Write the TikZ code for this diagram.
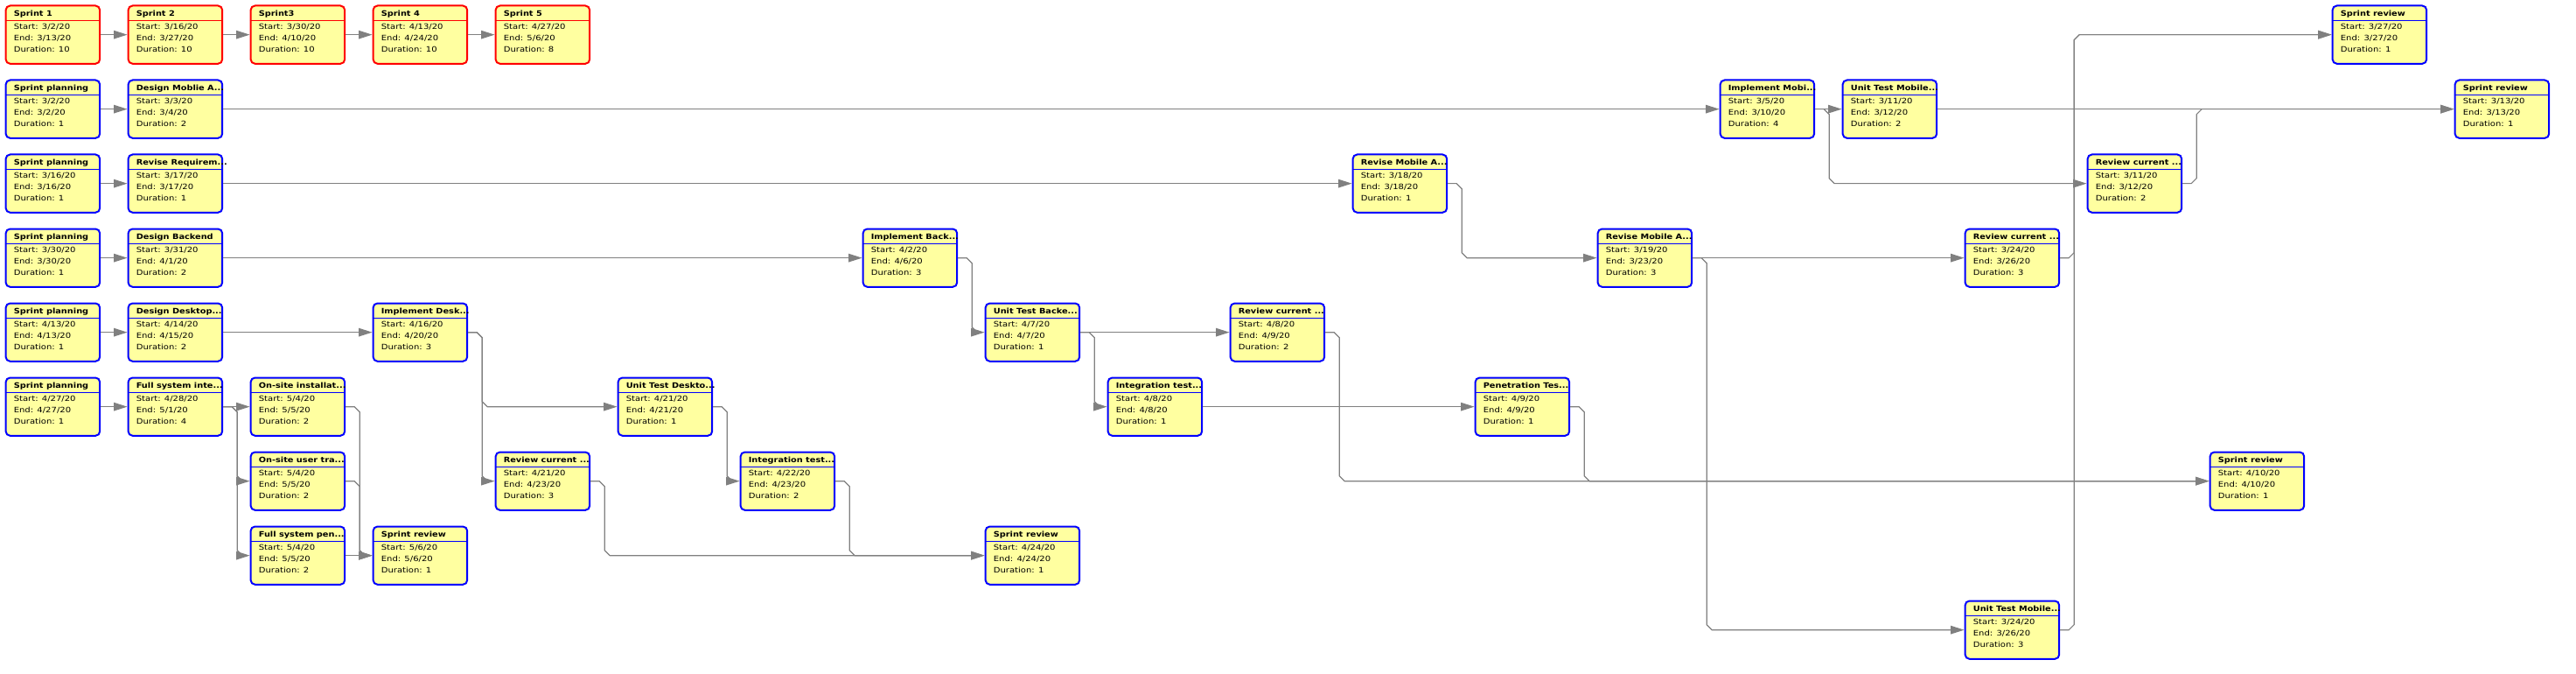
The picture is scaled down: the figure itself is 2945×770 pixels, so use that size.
\documentclass[tikz,border=0pt]{standalone}
\usepackage{fontspec}
\setmainfont{DejaVu Sans}
\newfontfamily\bodyfnt[FakeStretch=1.18]{DejaVu Sans}
\newfontfamily\titlefnt[FakeStretch=1.15]{DejaVu Sans}
\usetikzlibrary{arrows.meta,calc}
\definecolor{boxfill}{RGB}{255,255,160}
\definecolor{conncol}{RGB}{128,128,128}
\definecolor{bordblue}{RGB}{0,0,255}
\definecolor{bordred}{RGB}{255,0,0}
\tikzset{
  taskbox/.style={rectangle, rounded corners=5pt, line width=2pt, fill=boxfill,
    minimum width=107.6pt, minimum height=66.3pt, inner sep=0pt},
  titletext/.style={anchor=base west, inner sep=0pt, text=black,
    font=\titlefnt\bfseries\fontsize{8.5pt}{10pt}\selectfont},
  bodytext/.style={anchor=base west, inner sep=0pt, text=black,
    font=\bodyfnt\fontsize{8.5pt}{10pt}\selectfont},
  conn/.style={draw=conncol, line width=1.2pt,
    -{Triangle[length=15.5pt,width=9.5pt,fill=conncol]}},
}
% #1 name, #2 column, #3 row, #4 border colour, #5 title, #6 start, #7 end, #8 duration
\newcommand{\tasknode}[8]{%
  \pgfmathsetmacro{\tkx}{5.6+140*#2+54.8}%
  \pgfmathsetmacro{\tky}{5.5+85*#3+34.15}%
  \node[taskbox, draw=#4] (#1) at (\tkx,\tky) {};
  \draw[#4, line width=1pt] ([yshift=-18pt]#1.north west) -- ([yshift=-18pt]#1.north east);
  \node[titletext] (#1-t) at ([xshift=10pt,yshift=-12.6pt]#1.north west) {#5};
  \node[bodytext] (#1-s) at ([xshift=10pt,yshift=-28.4pt]#1.north west) {Start: #6};
  \node[bodytext] (#1-e) at ([xshift=10pt,yshift=-41.4pt]#1.north west) {End: #7};
  \node[bodytext] (#1-d) at ([xshift=10pt,yshift=-54.4pt]#1.north west) {Duration: #8};
}
\newcommand{\straightconn}[2]{\draw[conn] (#1.east) -- (#2.west);}
\newcommand{\elbowdown}[2]{\draw[conn] let \p1=(#1.east), \p2=(#2.west) in
  (\p1) -- (\x1+10pt,\y1) -- (\x1+16pt,\y1-6pt) -- (\x1+16pt,\y2+6pt) -- (\x1+22pt,\y2) -- (\p2);}
\newcommand{\elbowup}[2]{\draw[conn] let \p1=(#1.east), \p2=(#2.west) in
  (\p1) -- (\x1+10pt,\y1) -- (\x1+16pt,\y1+6pt) -- (\x1+16pt,\y2-6pt) -- (\x1+22pt,\y2) -- (\p2);}
\begin{document}
\begin{tikzpicture}[x=1pt,y=-1pt]
\useasboundingbox (0,0) rectangle (2945,770);
% row 0
\tasknode{s1}{0}{0}{bordred}{Sprint 1}{3/2/20}{3/13/20}{10}
\tasknode{s2}{1}{0}{bordred}{Sprint 2}{3/16/20}{3/27/20}{10}
\tasknode{s3}{2}{0}{bordred}{Sprint3}{3/30/20}{4/10/20}{10}
\tasknode{s4}{3}{0}{bordred}{Sprint 4}{4/13/20}{4/24/20}{10}
\tasknode{s5}{4}{0}{bordred}{Sprint 5}{4/27/20}{5/6/20}{8}
\tasknode{sr1}{19}{0}{bordblue}{Sprint review}{3/27/20}{3/27/20}{1}
% row 1
\tasknode{sp1}{0}{1}{bordblue}{Sprint planning}{3/2/20}{3/2/20}{1}
\tasknode{dma}{1}{1}{bordblue}{Design Moblie A...}{3/3/20}{3/4/20}{2}
\tasknode{ima}{14}{1}{bordblue}{Implement Mobi...}{3/5/20}{3/10/20}{4}
\tasknode{utm1}{15}{1}{bordblue}{Unit Test Mobile...}{3/11/20}{3/12/20}{2}
\tasknode{sr2}{20}{1}{bordblue}{Sprint review}{3/13/20}{3/13/20}{1}
% row 2
\tasknode{sp2}{0}{2}{bordblue}{Sprint planning}{3/16/20}{3/16/20}{1}
\tasknode{rr}{1}{2}{bordblue}{Revise Requirem...}{3/17/20}{3/17/20}{1}
\tasknode{rma1}{11}{2}{bordblue}{Revise Mobile A...}{3/18/20}{3/18/20}{1}
\tasknode{rc1}{17}{2}{bordblue}{Review current ...}{3/11/20}{3/12/20}{2}
% row 3
\tasknode{sp3}{0}{3}{bordblue}{Sprint planning}{3/30/20}{3/30/20}{1}
\tasknode{db}{1}{3}{bordblue}{Design Backend}{3/31/20}{4/1/20}{2}
\tasknode{ib}{7}{3}{bordblue}{Implement Back...}{4/2/20}{4/6/20}{3}
\tasknode{rma2}{13}{3}{bordblue}{Revise Mobile A...}{3/19/20}{3/23/20}{3}
\tasknode{rc2}{16}{3}{bordblue}{Review current ...}{3/24/20}{3/26/20}{3}
% row 4
\tasknode{sp4}{0}{4}{bordblue}{Sprint planning}{4/13/20}{4/13/20}{1}
\tasknode{dd}{1}{4}{bordblue}{Design Desktop...}{4/14/20}{4/15/20}{2}
\tasknode{idk}{3}{4}{bordblue}{Implement Desk...}{4/16/20}{4/20/20}{3}
\tasknode{utb}{8}{4}{bordblue}{Unit Test Backe...}{4/7/20}{4/7/20}{1}
\tasknode{rc3}{10}{4}{bordblue}{Review current ...}{4/8/20}{4/9/20}{2}
% row 5
\tasknode{sp5}{0}{5}{bordblue}{Sprint planning}{4/27/20}{4/27/20}{1}
\tasknode{fsi}{1}{5}{bordblue}{Full system inte...}{4/28/20}{5/1/20}{4}
\tasknode{osi}{2}{5}{bordblue}{On-site installat...}{5/4/20}{5/5/20}{2}
\tasknode{utd}{5}{5}{bordblue}{Unit Test Deskto...}{4/21/20}{4/21/20}{1}
\tasknode{it1}{9}{5}{bordblue}{Integration test...}{4/8/20}{4/8/20}{1}
\tasknode{pt}{12}{5}{bordblue}{Penetration Tes...}{4/9/20}{4/9/20}{1}
% row 6
\tasknode{osu}{2}{6}{bordblue}{On-site user tra...}{5/4/20}{5/5/20}{2}
\tasknode{rc4}{4}{6}{bordblue}{Review current ...}{4/21/20}{4/23/20}{3}
\tasknode{it2}{6}{6}{bordblue}{Integration test...}{4/22/20}{4/23/20}{2}
\tasknode{sr3}{18}{6}{bordblue}{Sprint review}{4/10/20}{4/10/20}{1}
% row 7
\tasknode{fsp}{2}{7}{bordblue}{Full system pen...}{5/4/20}{5/5/20}{2}
\tasknode{sr4}{3}{7}{bordblue}{Sprint review}{5/6/20}{5/6/20}{1}
\tasknode{sr5}{8}{7}{bordblue}{Sprint review}{4/24/20}{4/24/20}{1}
% row 8
\tasknode{utm2}{16}{8}{bordblue}{Unit Test Mobile...}{3/24/20}{3/26/20}{3}
% straight connectors
\straightconn{s1}{s2}
\straightconn{s2}{s3}
\straightconn{s3}{s4}
\straightconn{s4}{s5}
\straightconn{sp1}{dma}
\straightconn{dma}{ima}
\straightconn{ima}{utm1}
\straightconn{utm1}{sr2}
\straightconn{sp2}{rr}
\straightconn{rr}{rma1}
\straightconn{sp3}{db}
\straightconn{db}{ib}
\straightconn{rma2}{rc2}
\straightconn{sp4}{dd}
\straightconn{dd}{idk}
\straightconn{utb}{rc3}
\straightconn{sp5}{fsi}
\straightconn{fsi}{osi}
\straightconn{it1}{pt}
\straightconn{fsp}{sr4}
% elbow connectors
\elbowdown{ima}{rc1}
\elbowup{rc1}{sr2}
\elbowdown{rma1}{rma2}
\elbowdown{rma2}{utm2}
\elbowup{rc2}{sr1}
\elbowup{utm2}{sr1}
\elbowdown{ib}{utb}
\elbowdown{utb}{it1}
\elbowdown{pt}{sr3}
\elbowdown{rc3}{sr3}
\elbowdown{idk}{utd}
\elbowdown{idk}{rc4}
\elbowdown{utd}{it2}
\elbowdown{rc4}{sr5}
\elbowdown{it2}{sr5}
\elbowdown{fsi}{osu}
\elbowdown{fsi}{fsp}
\elbowdown{osi}{sr4}
\elbowdown{osu}{sr4}
\end{tikzpicture}
\end{document}
